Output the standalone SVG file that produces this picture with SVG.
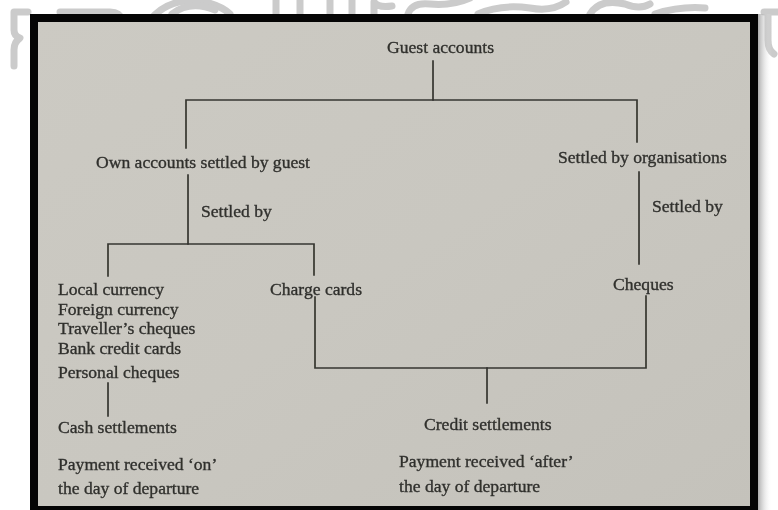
<svg xmlns="http://www.w3.org/2000/svg" width="778" height="510" viewBox="0 0 778 510">
  <defs>
    <linearGradient id="paper" x1="0" y1="0" x2="1" y2="1">
      <stop offset="0" stop-color="#cccac3"/>
      <stop offset="0.5" stop-color="#c9c7c0"/>
      <stop offset="1" stop-color="#c4c2bb"/>
    </linearGradient>
    <linearGradient id="shade" x1="0" y1="0" x2="1" y2="0">
      <stop offset="0" stop-color="#8a8a8a"/>
      <stop offset="1" stop-color="#ffffff" stop-opacity="0"/>
    </linearGradient>
    <filter id="soft" x="-5%" y="-5%" width="110%" height="110%">
      <feGaussianBlur stdDeviation="0.45"/>
    </filter>
    <style>
      .lbl { font-family: "Liberation Serif", "Times New Roman", serif; font-size: 17.6px; fill: #30302d; stroke: #30302d; stroke-width: 0.35; }
      .wire { fill: none; stroke: #353531; stroke-width: 1.7; stroke-linecap: square; }
      .mark { fill: none; stroke: #cbcbcb; stroke-width: 7; stroke-linecap: round; stroke-linejoin: round; }
    </style>
  </defs>

  <!-- page background -->
  <rect x="0" y="0" width="778" height="510" fill="#ffffff"/>

  <!-- faint emblem behind the frame -->
  <g id="emblem">
    <path class="mark" d="M14 12 H28 M14 12 V30 Q14 36 20 38 Q14 42 14 50 V66"/>
    <path class="mark" d="M60 12 H110 Q120 12 122 20"/>
    <path class="mark" d="M150 20 Q170 -4 205 2 Q222 6 230 14"/>
    <path class="mark" d="M172 14 Q190 0 215 10"/>
    <path class="mark" d="M276 14 V-4 M300 14 V-4 M330 14 V-4 M352 14 V-4 M374 14 V2 Q378 8 392 6"/>
    <path class="mark" d="M408 14 Q412 2 430 4 Q452 6 470 -2"/>
    <path class="mark" d="M478 14 Q500 4 530 8 Q552 12 566 2"/>
    <path class="mark" d="M590 14 Q600 -2 625 4 Q640 10 650 4"/>
    <path class="mark" d="M655 14 Q680 6 705 8"/>
    <path class="mark" d="M764 12 H778 M768 12 V40 Q768 50 774 54"/>
  </g>

  <!-- shadow along the right edge of the frame -->
  <rect x="758" y="14" width="14" height="496" fill="url(#shade)" opacity="0.7"/>

  <!-- framed sheet -->
  <rect x="34" y="18" width="720" height="492" fill="url(#paper)" stroke="#050505" stroke-width="8"/>

  <g filter="url(#soft)">
    <!-- connectors -->
    <g id="connectors">
      <path class="wire" d="M433 61 V100"/>
      <path class="wire" d="M186 148 V100 H637 V142"/>
      <path class="wire" d="M188 175 V244"/>
      <path class="wire" d="M108 276 V244 H314 V275"/>
      <path class="wire" d="M639 172 V264"/>
      <path class="wire" d="M315 297 V368 H646 V296"/>
      <path class="wire" d="M487 368 V403"/>
      <path class="wire" d="M108 383 V416"/>
    </g>

    <g id="guest-accounts"><text class="lbl" x="387" y="53">Guest accounts</text></g>
    <g id="own-accounts"><text class="lbl" x="96" y="168">Own accounts settled by guest</text></g>
    <g id="organisations"><text class="lbl" x="558" y="163">Settled by organisations</text></g>
    <g id="settled-by-guest"><text class="lbl" x="201" y="217">Settled by</text></g>
    <g id="settled-by-org"><text class="lbl" x="652" y="212">Settled by</text></g>
    <g id="cash-methods">
      <text class="lbl" x="58" y="295">Local currency</text>
      <text class="lbl" x="58" y="315">Foreign currency</text>
      <text class="lbl" x="58" y="334">Traveller’s cheques</text>
      <text class="lbl" x="58" y="354">Bank credit cards</text>
      <text class="lbl" x="58" y="378">Personal cheques</text>
    </g>
    <g id="charge-cards"><text class="lbl" x="270" y="295">Charge cards</text></g>
    <g id="cheques"><text class="lbl" x="613" y="290">Cheques</text></g>
    <g id="cash-settlements">
      <text class="lbl" x="58" y="433">Cash settlements</text>
      <text class="lbl" x="58" y="470">Payment received ‘on’</text>
      <text class="lbl" x="58" y="494">the day of departure</text>
    </g>
    <g id="credit-settlements">
      <text class="lbl" x="424" y="430">Credit settlements</text>
      <text class="lbl" x="399" y="467">Payment received ‘after’</text>
      <text class="lbl" x="399" y="492">the day of departure</text>
    </g>
  </g>
</svg>
